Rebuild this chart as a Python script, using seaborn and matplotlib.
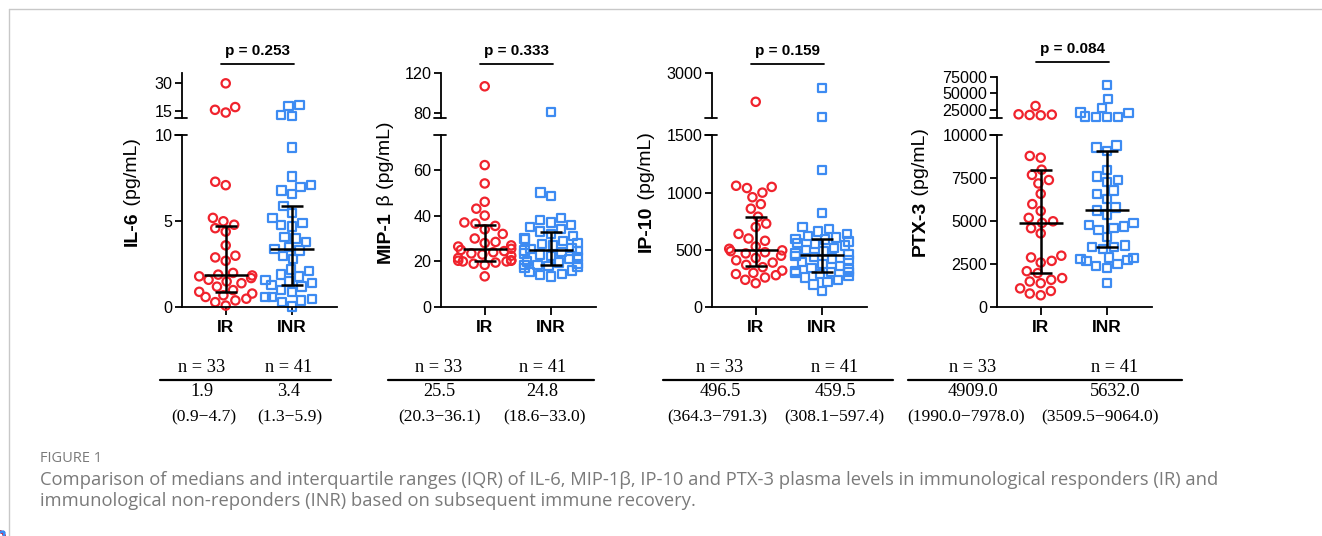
import warnings
warnings.filterwarnings("ignore")
import numpy as np
import pandas as pd
import matplotlib
matplotlib.use("Agg")
import matplotlib.pyplot as plt
from matplotlib.lines import Line2D
from matplotlib.transforms import blended_transform_factory
import seaborn as sns

# ---------------- data ----------------
groups = ["IR", "INR"]

il6_ir = [0.1, 0.3, 0.4, 0.5, 0.6, 0.7, 0.8, 0.9, 1.0, 1.2, 1.4, 1.5, 1.6, 1.7, 1.8,
          1.85, 1.9, 2.0, 2.7, 2.9, 3.0, 3.6, 4.4, 4.6, 4.8, 5.0, 5.2, 7.1, 7.3,
          14.0, 15.5, 17.0, 30.0]
il6_inr = [0.05, 0.3, 0.4, 0.5, 0.6, 0.6, 0.9, 1.0, 1.2, 1.3, 1.4, 1.5, 1.6, 1.8, 1.9,
           2.1, 2.2, 2.8, 3.0, 3.3, 3.4, 3.5, 3.8, 4.0, 4.1, 4.7, 4.8, 4.9, 5.2, 5.5,
           5.9, 6.6, 6.8, 7.0, 7.1, 7.6, 9.3, 12.0, 12.5, 17.5, 18.0]

mip_ir = [13.5, 18.5, 19.0, 19.5, 20.0, 20.0, 20.3, 20.3, 20.5, 21.5, 22.5, 23.0, 23.5,
          24.0, 24.5, 25.0, 25.5, 26.5, 27.0, 28.0, 28.5, 30.0, 32.0, 34.0, 35.5, 36.5,
          37.0, 40.0, 43.0, 46.0, 54.0, 62.0, 107.0]
mip_inr = [13.5, 14.0, 14.5, 15.5, 16.0, 17.0, 17.5, 18.0, 18.3, 18.5, 18.8, 19.5, 20.0,
           21.0, 22.0, 22.5, 23.0, 23.5, 24.0, 24.5, 24.8, 25.5, 26.0, 27.0, 27.5, 28.0,
           29.0, 29.5, 30.0, 31.0, 32.0, 33.0, 34.0, 35.0, 36.0, 37.0, 38.0, 39.0, 48.5,
           50.0, 81.0]

ip10_ir = [210, 240, 260, 280, 290, 300, 320, 350, 370, 390, 410, 430, 450, 470, 480, 490,
           496.5, 510, 530, 580, 600, 640, 700, 730, 790, 860, 900, 960, 1000, 1040, 1050,
           1060, 2050]
ip10_inr = [140, 200, 220, 240, 260, 275, 290, 300, 305, 308, 315, 330, 345, 360, 380, 395,
            410, 425, 440, 450, 459.5, 470, 490, 500, 520, 540, 550, 560, 575, 590, 597,
            610, 620, 640, 660, 680, 700, 820, 1200, 1550, 2520]

ptx_ir = [700, 800, 950, 1100, 1400, 1500, 1600, 1700, 1990, 2100, 2600, 2700, 2900, 3000,
          4300, 4600, 4909, 5000, 5200, 5600, 6000, 6600, 7200, 7400, 7700, 8000, 8700,
          8800, 17000, 17500, 18000, 18500, 31000]
ptx_inr = [1400, 2300, 2400, 2500, 2700, 2750, 2800, 2850, 2900, 3400, 3500, 3520, 3600,
           4100, 4500, 4600, 4700, 4800, 4900, 5400, 5632, 5800, 6300, 6600, 6800, 7300,
           7400, 7600, 8000, 9100, 9300, 9400, 14000, 14200, 14500, 15000, 20000, 21000,
           28000, 41000, 63000]

il6_median, il6_q1, il6_q3 = [1.9, 3.4], [0.9, 1.3], [4.7, 5.9]
mip_median, mip_q1, mip_q3 = [25.5, 24.8], [20.3, 18.6], [36.1, 33.0]
ip10_median, ip10_q1, ip10_q3 = [496.5, 459.5], [364.3, 308.1], [791.3, 597.4]
ptx_median, ptx_q1, ptx_q3 = [4909.0, 5632.0], [1990.0, 3509.5], [7978.0, 9064.0]

p_values = ["p = 0.253", "p = 0.333", "p = 0.159", "p = 0.084"]
label_bold = ["IL-6", "MIP-1", "IP-10", "PTX-3"]
label_rest = [" (pg/mL)", " β (pg/mL)", " (pg/mL)", " (pg/mL)"]

bottom_ticks = [[0, 5, 10], [0, 20, 40, 60], [0, 500, 1000, 1500], [0, 2500, 5000, 7500, 10000]]
top_ticks = [[15, 30], [80, 120], [3000], [25000, 50000, 75000]]
bottom_lims = [(0, 10), (0, 75), (0, 1500), (0, 10000)]
top_lims = [(10.85, 35.5), (75, 120), (1500, 3000), (12500, 75000)]

caption_head = "FIGURE 1"
caption_lines = [
    "Comparison of medians and interquartile ranges (IQR) of IL-6, MIP-1β, IP-10 and PTX-3 plasma levels in immunological responders (IR) and",
    "immunological non-reponders (INR) based on subsequent immune recovery.",
]

# ---------------- style ----------------
sns.set_theme(style="white")
plt.rcParams["font.family"] = ["Liberation Sans", "DejaVu Sans"]

RED = "#f0232d"
BLUE = "#3d8bf2"
W, H = 1322, 536
fig = plt.figure(figsize=(W / 100, H / 100), dpi=100)
fig.patch.set_facecolor("white")


def box(l, t, w, h):
    return [l / W, 1 - (t + h) / H, w / W, h / H]


def fx(x):
    return x / W


def fy(y):
    return 1 - y / H


panels = [
    (il6_ir, il6_inr, il6_median, il6_q1, il6_q3),
    (mip_ir, mip_inr, mip_median, mip_q1, mip_q3),
    (ip10_ir, ip10_inr, ip10_median, ip10_q1, ip10_q3),
    (ptx_ir, ptx_inr, ptx_median, ptx_q1, ptx_q3),
]

spine_x = [182, 441, 712, 997]
top_top = [73.3, 73.3, 73.3, 76.7]
BOT_TOP, BOT_BOT, TOP_BOT = 135.3, 307.3, 118.3
AX_W = 155
XLIM = (-0.66, 1.68)
label_x = [137, 390, 651, 925]
LW = 1.3


def swarm(ax, vals, group, marker, color, lo, hi):
    sub = [v for v in vals if lo <= v <= hi]
    if not sub:
        return
    df = pd.DataFrame({"group": [group] * len(sub), "value": sub})
    n0 = len(ax.collections)
    sns.swarmplot(data=df, x="group", y="value", order=groups, marker=marker,
                  color=color, size=6.0, ax=ax, zorder=2)
    for coll in ax.collections[n0:]:
        coll.set_facecolor("none")
        coll.set_edgecolor(color)
        coll.set_linewidth(1.6)
        coll.set_clip_on(False)


renderer = fig.canvas.get_renderer()

for i, (ir, inr, med, q1, q3) in enumerate(panels):
    sx = spine_x[i]
    ax_b = fig.add_axes(box(sx, BOT_TOP, AX_W, BOT_BOT - BOT_TOP))
    ax_t = fig.add_axes(box(sx, top_top[i], AX_W, TOP_BOT - top_top[i]))
    for ax, lims in ((ax_b, bottom_lims[i]), (ax_t, top_lims[i])):
        ax.set_facecolor("none")
        swarm(ax, ir, "IR", "o", RED, lims[0], lims[1])
        swarm(ax, inr, "INR", "s", BLUE, lims[0], lims[1])
        ax.set_xlim(*XLIM)
        ax.set_ylim(*lims)
        ax.set_xlabel("")
        ax.set_ylabel("")
        for s in ("top", "right"):
            ax.spines[s].set_visible(False)
        ax.spines["left"].set_linewidth(LW)
        ax.spines["left"].set_color("black")
        ax.spines["bottom"].set_linewidth(LW)
        ax.spines["bottom"].set_color("black")
        ax.tick_params(axis="y", direction="out", length=5, width=LW, labelsize=11.6,
                       pad=2, left=True, colors="black")
    ax_t.spines["bottom"].set_visible(False)
    ax_t.set_xticks([])
    ax_b.set_yticks(bottom_ticks[i])
    ax_t.set_yticks(top_ticks[i])
    ax_b.set_xticks([0, 1])
    ax_b.set_xticklabels(groups, fontweight="bold", fontsize=12.5)
    ax_b.tick_params(axis="x", direction="out", length=6, width=LW, bottom=True, pad=3,
                     colors="black")

    # median + IQR
    for j in range(2):
        ax_b.errorbar([j], [med[j]], yerr=[[med[j] - q1[j]], [q3[j] - med[j]]], fmt="none",
                      ecolor="black", elinewidth=1.8, capsize=8, capthick=1.8, zorder=5)
        ax_b.hlines(med[j], j - 0.33, j + 0.33, color="black", lw=1.8, zorder=5)

    # break marks
    for yb in (BOT_TOP, TOP_BOT):
        fig.add_artist(Line2D([fx(sx - 7), fx(sx + 5)], [fy(yb), fy(yb)],
                              transform=fig.transFigure, color="black", lw=LW))

    # p-value bracket
    tr = blended_transform_factory(ax_t.transData, fig.transFigure)
    ly = 63.5 if i < 3 else 62
    ax_t.add_line(Line2D([-0.07, 1.03], [fy(ly), fy(ly)], transform=tr, color="black",
                         lw=1.3, clip_on=False))
    ax_t.text(0.48, fy(ly - 12.5), p_values[i], transform=tr, ha="center", va="center",
              fontsize=11, fontweight="bold", color="black")

    # y label (bold part + regular part)
    y0 = 192
    t1 = fig.text(fx(label_x[i]), 0, label_bold[i], rotation=90, rotation_mode="anchor",
                  ha="left", va="baseline", fontsize=14, fontweight="bold", color="black")
    t2 = fig.text(fx(label_x[i]), 0, label_rest[i], rotation=90, rotation_mode="anchor",
                  ha="left", va="baseline", fontsize=14, color="black")
    h1 = t1.get_window_extent(renderer).height
    h2 = t2.get_window_extent(renderer).height
    start = (H - y0) - (h1 + h2) / 2
    t1.set_position((fx(label_x[i]), start / H))
    t2.set_position((fx(label_x[i]), (start + h1) / H))

# ---------------- tables ----------------
line_span = [(160, 331), (388, 594), (663, 893), (908, 1182)]
col_n = [(201.7, 289), (439, 542.3), (720, 835), (973, 1115)]
col_iqr = [(204, 290), (440, 544.5), (717, 834), (966, 1100)]
SERIF = ["Liberation Serif", "DejaVu Serif"]
for i, (ir, inr, med, q1, q3) in enumerate(panels):
    l0, l1 = line_span[i]
    fig.add_artist(Line2D([fx(l0), fx(l1)], [fy(380), fy(380)], transform=fig.transFigure,
                          color="black", lw=1.6))
    for j, vals in enumerate((ir, inr)):
        fig.text(fx(col_n[i][j]), fy(368), f"n = {len(vals)}", ha="center", va="center",
                 fontsize=13.2, family=SERIF, color="black")
        fig.text(fx(col_n[i][j]), fy(392), f"{med[j]:.1f}", ha="center", va="center",
                 fontsize=13.2, family=SERIF, color="black")
        fig.text(fx(col_iqr[i][j]), fy(417), f"({q1[j]:.1f}\u2212{q3[j]:.1f})", ha="center",
                 va="center", fontsize=12.6, family=SERIF, color="black")

# ---------------- caption & frame ----------------
CAP = ["Open Sans", "DejaVu Sans"]
fig.text(fx(40), fy(459), caption_head, ha="left", va="center", fontsize=10.5, family=CAP,
         color="#7a7a7a")
fig.text(fx(40), fy(480), caption_lines[0], ha="left", va="center", fontsize=13.2, family=CAP,
         color="#7a7a7a")
fig.text(fx(40), fy(501.5), caption_lines[1], ha="left", va="center", fontsize=13.2, family=CAP,
         color="#7a7a7a")

fig.add_artist(Line2D([fx(9), 1], [fy(9), fy(9)], transform=fig.transFigure, color="#c8c8c8", lw=1))
fig.add_artist(Line2D([fx(9), fx(9)], [fy(9), 0], transform=fig.transFigure, color="#c8c8c8", lw=1))

fig.savefig("out.png", dpi=100, facecolor="white")
